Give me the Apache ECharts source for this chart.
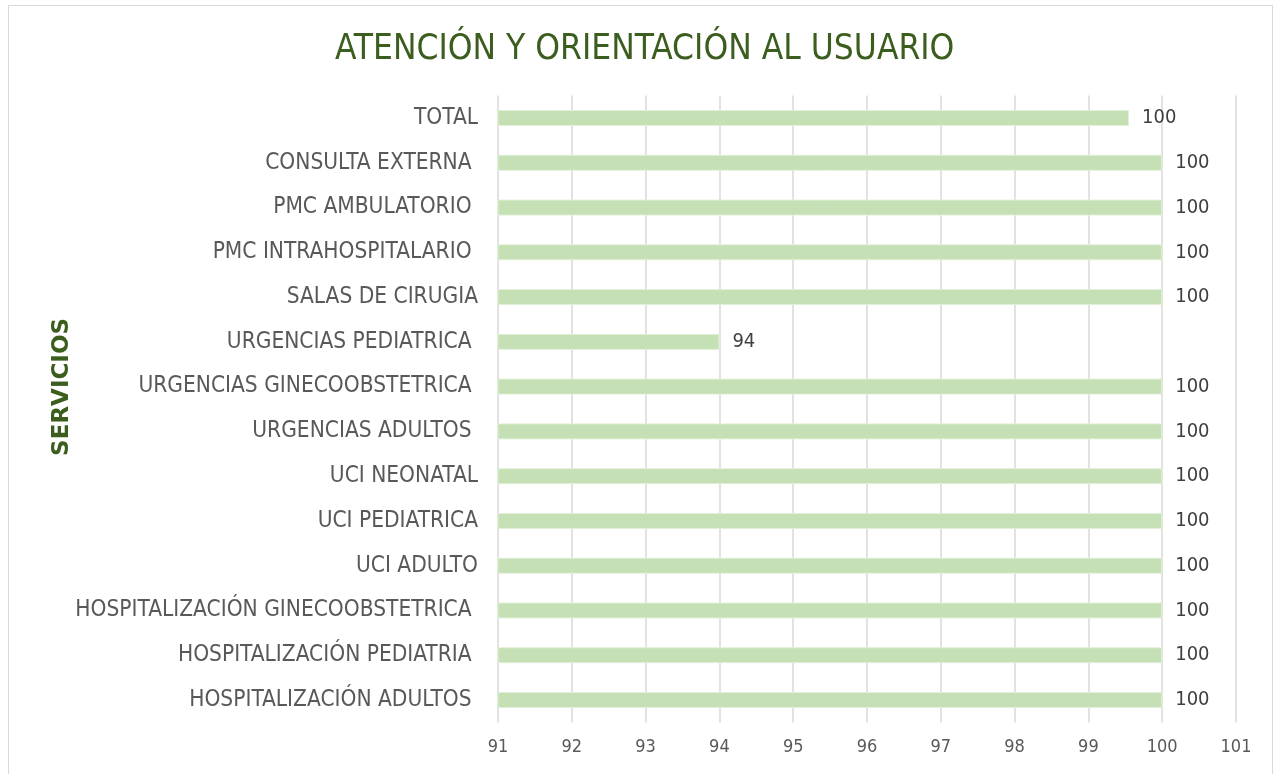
<!DOCTYPE html>
<html>
<head>
<meta charset="utf-8">
<script src="https://cdn.jsdelivr.net/npm/echarts@6/dist/echarts.min.js"></script>
<style>
  html, body { margin: 0; padding: 0; background: #fff; }
  #chart { width: 1275px; height: 774px; box-sizing: border-box; }
  #frame { position: absolute; left: 8px; top: 5px; width: 1265px; height: 780px; border: 1px solid #d9d9d9; box-sizing: border-box; pointer-events: none; }
</style>
</head>
<body>
<div id="chart"></div>
<div id="frame"></div>
<script>
  // datos (de arriba hacia abajo)
  const servicios = [
    'TOTAL',
    'CONSULTA EXTERNA ',
    'PMC AMBULATORIO ',
    'PMC INTRAHOSPITALARIO ',
    'SALAS DE CIRUGIA',
    'URGENCIAS PEDIATRICA ',
    'URGENCIAS GINECOOBSTETRICA ',
    'URGENCIAS ADULTOS ',
    'UCI NEONATAL',
    'UCI PEDIATRICA',
    'UCI ADULTO',
    'HOSPITALIZACIÓN GINECOOBSTETRICA ',
    'HOSPITALIZACIÓN PEDIATRIA ',
    'HOSPITALIZACIÓN ADULTOS '
  ];
  const valores = [99.55, 100, 100, 100, 100, 94, 100, 100, 100, 100, 100, 100, 100, 100];
  const xTicks = [91, 92, 93, 94, 95, 96, 97, 98, 99, 100, 101];

  const FONT = '"DejaVu Sans Condensed", "DejaVu Sans", sans-serif';
  const chart = echarts.init(document.getElementById('chart'));

  chart.setOption({
    animation: false,
    title: {
      text: 'ATENCIÓN Y ORIENTACIÓN AL USUARIO',
      left: 330,
      top: 27,
      textStyle: { color: '#3b5e1f', fontSize: 35, fontWeight: 'normal', fontFamily: FONT }
    },
    graphic: [{
      type: 'text',
      left: 51,
      top: 318,
      style: { text: 'SERVICIOS', fill: '#3b5e1f', font: 'bold 23px "DejaVu Sans", sans-serif' },
      rotation: Math.PI / 2
    }],
    grid: { left: 498, right: 39, top: 95.6, bottom: 51.6, containLabel: false },
    xAxis: {
      type: 'value',
      min: xTicks[0],
      max: xTicks[xTicks.length - 1],
      interval: 1,
      axisLine: { show: false },
      axisTick: { show: false },
      axisLabel: { color: '#595959', fontSize: 18, fontFamily: FONT, margin: 16 },
      splitLine: { show: true, lineStyle: { color: '#d9d9d9', width: 1.5 } }
    },
    yAxis: {
      type: 'category',
      data: servicios,
      inverse: true,
      axisLine: { show: false },
      axisTick: { show: false },
      axisLabel: { color: '#595959', fontSize: 22.5, fontFamily: FONT, margin: 20 }
    },
    series: [{
      type: 'bar',
      data: valores,
      barWidth: 16,
      itemStyle: { color: '#c5e0b4', borderColor: '#e2f0d9', borderWidth: 1 },
      label: {
        show: true,
        position: 'right',
        distance: 13,
        color: '#404040',
        fontSize: 20,
        fontFamily: FONT,
        formatter: p => Math.round(p.value)
      }
    }]
  });
</script>
</body>
</html>
